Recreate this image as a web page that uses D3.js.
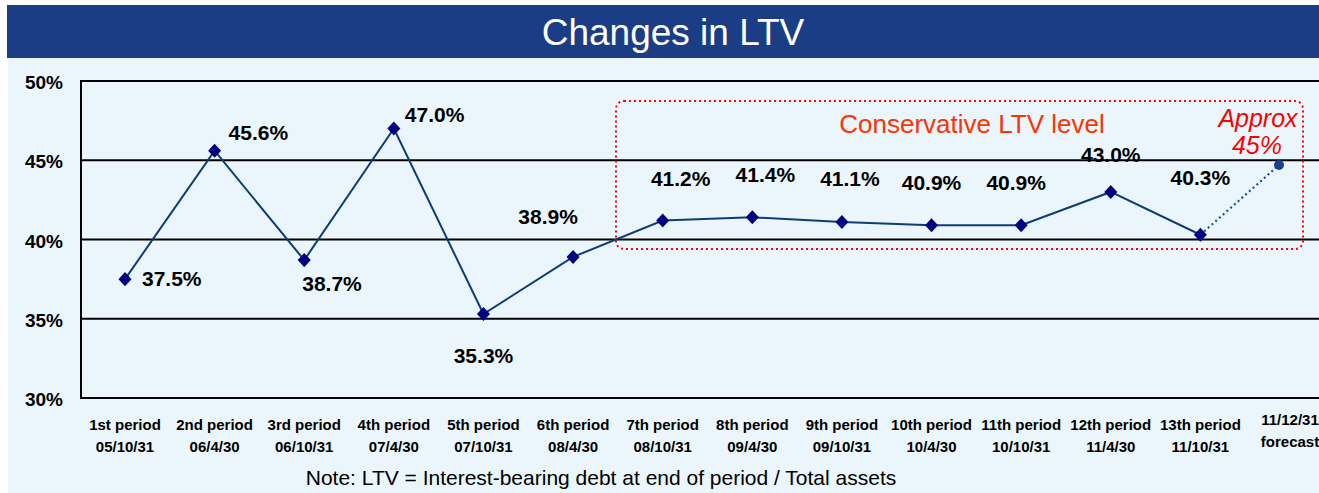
<!DOCTYPE html>
<html>
<head>
<meta charset="utf-8">
<script src="https://cdn.jsdelivr.net/npm/d3@7"></script>
<style>
  body { margin: 0; background: #fff; }
  svg { display: block; font-family: Arial, "Liberation Sans", sans-serif; }
</style>
</head>
<body>
<script>
// chart values
let periods = ["1st period", "2nd period", "3rd period", "4th period", "5th period", "6th period", "7th period",
    "8th period", "9th period", "10th period", "11th period", "12th period", "13th period", "11/12/31"];
let dates = ["05/10/31", "06/4/30", "06/10/31", "07/4/30", "07/10/31", "08/4/30", "08/10/31",
    "09/4/30", "09/10/31", "10/4/30", "10/10/31", "11/4/30", "11/10/31", "forecast"];
let ltv = [37.5, 45.6, 38.7, 47.0, 35.3, 38.9, 41.2, 41.4, 41.1, 40.9, 40.9, 43.0, 40.3];
let forecast_value = 44.7;
let y_ticks = [30, 35, 40, 45, 50];

// where each value label sits relative to its point: [dx, baseline dy, anchor]
let label_pos = [
    [17, 7, "start"], [14, -11, "start"], [-2, 31, "start"], [11, -7, "start"], [0, 49, "middle"],
    [-25, -33, "middle"], [18, -34, "middle"], [13, -35, "middle"], [8, -36, "middle"],
    [0, -35, "middle"], [-5, -35, "middle"], [0, -30, "middle"], [0, -50, "middle"]
];

let width = 1319, height = 493;
let svg = d3.select("body").append("svg")
    .attr("width", width)
    .attr("height", height);

// backgrounds
svg.append("rect").attr("x", 8).attr("y", 5).attr("width", width - 8).attr("height", height - 5)
    .attr("fill", "#eaf6fb");
svg.append("rect").attr("x", 7).attr("y", 5).attr("width", width - 7).attr("height", 53)
    .attr("fill", "#1b3d85");
svg.append("text").attr("x", 673).attr("y", 45)
    .attr("text-anchor", "middle").attr("fill", "#fff")
    .style("font-size", "37px")
    .text("Changes in LTV");

let x = d3.scalePoint().domain(periods).range([125, 1290]);
let y = d3.scaleLinear().domain([30, 50]).range([398, 81]);
let left = 81;

// gridlines + frame
svg.append("g").selectAll("line").data(y_ticks).join("line")
    .attr("x1", left).attr("x2", width)
    .attr("y1", d => y(d)).attr("y2", d => y(d))
    .attr("stroke", "#000").attr("stroke-width", 2);
svg.append("line").attr("x1", left).attr("x2", left).attr("y1", y(50) - 1).attr("y2", y(30) + 1)
    .attr("stroke", "#000").attr("stroke-width", 2);

// y axis labels
let yAxis = d3.axisLeft(y).tickValues(y_ticks).tickFormat(d => d + "%").tickSize(0).tickPadding(0);
let yg = svg.append("g").attr("transform", "translate(63,0)").call(yAxis);
yg.select(".domain").remove();
yg.selectAll("text").style("font-size", "19px").style("font-weight", "bold")
    .style("font-family", "Arial, 'Liberation Sans', sans-serif").attr("fill", "#000")
    .attr("dy", "7.5px");

// category labels
let cat = svg.append("g").selectAll("text").data(periods).join("text")
    .attr("x", d => x(d))
    .attr("text-anchor", "middle")
    .style("font-size", "15px").style("font-weight", "bold")
    .attr("fill", "#000");
cat.append("tspan").attr("x", d => x(d)).attr("y", (d, i) => i == 13 ? 425 : 430).text(d => d);
cat.append("tspan").attr("x", d => x(d)).attr("y", (d, i) => i == 13 ? 447 : 452).text((d, i) => dates[i]);

// conservative box
svg.append("rect")
    .attr("x", 616).attr("y", 101).attr("width", 687).attr("height", 148)
    .attr("rx", 8)
    .attr("fill", "none").attr("stroke", "#ff0000").attr("stroke-width", 2)
    .attr("stroke-dasharray", "2,3");
svg.append("text").attr("x", 972).attr("y", 133).attr("text-anchor", "middle")
    .attr("fill", "#ff3300").style("font-size", "26px")
    .text("Conservative LTV level");
svg.append("text").attr("x", 1258).attr("y", 127).attr("text-anchor", "middle")
    .attr("fill", "#ff0000").style("font-size", "25px").style("font-style", "italic")
    .text("Approx");
svg.append("text").attr("x", 1257).attr("y", 154).attr("text-anchor", "middle")
    .attr("fill", "#ff0000").style("font-size", "25px").style("font-style", "italic")
    .text("45%");

// forecast dotted segment (dot sits a little left of its category)
let fx = x(periods[13]) - 11;
svg.append("line")
    .attr("x1", x(periods[12])).attr("y1", y(ltv[12]))
    .attr("x2", fx).attr("y2", y(forecast_value))
    .attr("stroke", "#1f4f9c").attr("stroke-width", 2.2).attr("stroke-dasharray", "2,3");
svg.append("circle").attr("cx", fx).attr("cy", y(forecast_value)).attr("r", 5)
    .attr("fill", "#1f3f8c");

// main line
let pts = ltv.map((v, i) => [x(periods[i]), y(v)]);
svg.append("path").datum(pts)
    .attr("d", d3.line())
    .attr("fill", "none").attr("stroke", "#0f3c74").attr("stroke-width", 2);

svg.append("g").selectAll("path").data(pts).join("path")
    .attr("d", d3.symbol(d3.symbolSquare, 85))
    .attr("transform", d => "translate(" + d[0] + "," + d[1] + ") scale(1,1.08) rotate(45)")
    .attr("fill", "#000080");

// value labels
svg.append("g").selectAll("text").data(ltv).join("text")
    .attr("x", (d, i) => pts[i][0] + label_pos[i][0])
    .attr("y", (d, i) => pts[i][1] + label_pos[i][1])
    .attr("text-anchor", (d, i) => label_pos[i][2])
    .style("font-size", "21px").style("font-weight", "bold")
    .attr("fill", "#000")
    .text(d => d.toFixed(1) + "%");

// note
svg.append("text").attr("x", 601).attr("y", 485).attr("text-anchor", "middle")
    .style("font-size", "21px").attr("fill", "#000")
    .text("Note: LTV = Interest-bearing debt at end of period / Total assets");
</script>
</body>
</html>
